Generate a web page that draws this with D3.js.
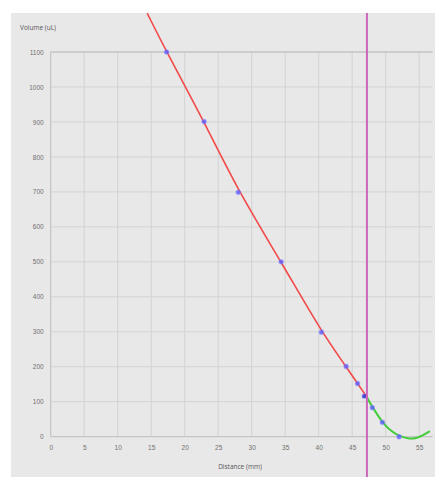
<!DOCTYPE html>
<html><head><meta charset="utf-8">
<script src="https://cdn.jsdelivr.net/npm/d3@7"></script>
<style>body{margin:0;background:#fff;}svg{display:block;font-family:"Open Sans","DejaVu Sans",sans-serif;}</style>
</head><body><div id="chart"></div>
<script>
const xTicks = [0,5,10,15,20,25,30,35,40,45,50,55];
const yTicks = [0,100,200,300,400,500,600,700,800,900,1000,1100];
// measured points
const pointDistance = [17.3,22.9,28.0,34.4,40.4,44.1,45.8,46.8,48.0,49.5,52.0];
const pointVolume   = [1100,901,699,500,299,201,152,116,83,41,0];
// red fitted curve
const redDistance = [14.4,17.3,22.9,28.0,34.4,40.4,44.1,45.8,47.2];
const redVolume   = [1211,1100,901,702,500,300,200,152,113];
// green fitted curve
const greenDistance = [47.2,48.0,49.5,50.5,52.0,53.5,54.5,55.5,56.6];
const greenVolume   = [113,86,43,22,3,-5,-4,4,16];
const cursorDistance = 47.2;

const W=435,H=477;
const svg=d3.select("#chart").append("svg").attr("width",W).attr("height",H);
svg.append("rect").attr("x",11).attr("y",13).attr("width",W-11).attr("height",H-13).attr("fill","#e8e8e8");

const x=d3.scaleLinear().domain([0,57]).range([50.7,432.6]);
const y=d3.scaleLinear().domain([0,1100]).range([436.7,52]);

const g=svg.append("g");
g.selectAll(".vg").data(xTicks.slice(1)).enter().append("line")
 .attr("x1",d=>x(d)).attr("x2",d=>x(d)).attr("y1",y(1100)).attr("y2",y(0))
 .attr("stroke","#d3d3d3").attr("stroke-width",1);
g.selectAll(".hg").data(yTicks.slice(1,-1)).enter().append("line")
 .attr("x1",x(0)).attr("x2",432.6).attr("y1",d=>y(d)).attr("y2",d=>y(d))
 .attr("stroke","#d3d3d3").attr("stroke-width",1);
g.append("line").attr("x1",x(0)).attr("x2",432.6).attr("y1",y(1100)).attr("y2",y(1100)).attr("stroke","#c4c4c4").attr("stroke-width",1.5);
g.append("line").attr("x1",x(0)).attr("x2",432.6).attr("y1",y(0)).attr("y2",y(0)).attr("stroke","#c4c4c4").attr("stroke-width",1.2);
g.append("line").attr("x1",x(0)).attr("x2",x(0)).attr("y1",y(1100)).attr("y2",y(0)).attr("stroke","#c4c4c4").attr("stroke-width",1.2);

const xa=d3.axisBottom(x).tickValues(xTicks).tickFormat(d3.format("d")).tickSize(0).tickPadding(9);
const ax=svg.append("g").attr("transform",`translate(0,${y(0)})`).call(xa);
const ya=d3.axisLeft(y).tickValues(yTicks).tickFormat(d3.format("d")).tickSize(0).tickPadding(7);
const ay=svg.append("g").attr("transform",`translate(${x(0)},0)`).call(ya);
[ax,ay].forEach(a=>{a.select(".domain").remove();a.selectAll("text").attr("fill","#707070").attr("font-size","6.5px");});

svg.append("text").attr("x",20).attr("y",30).attr("font-size","6.5px").attr("fill","#555").text("Volume (uL)");
svg.append("text").attr("x",240).attr("y",469).attr("text-anchor","middle").attr("font-size","6.5px").attr("fill","#555").text("Distance (mm)");

svg.append("clipPath").attr("id","c").append("rect").attr("x",11).attr("y",13).attr("width",W-11).attr("height",H-13);
const redLine=d3.line().x(d=>x(d[0])).y(d=>y(d[1])).curve(d3.curveBasis);
const greenLine=d3.line().x(d=>x(d[0])).y(d=>y(d[1])).curve(d3.curveCatmullRom);
svg.append("path").attr("clip-path","url(#c)").datum(d3.zip(redDistance,redVolume)).attr("d",redLine)
 .attr("fill","none").attr("stroke","#f24a4a").attr("stroke-width",1.6);
svg.append("path").datum(d3.zip(greenDistance,greenVolume)).attr("d",greenLine)
 .attr("fill","none").attr("stroke","#44cc3c").attr("stroke-width",2);

svg.selectAll(".pt").data(d3.zip(pointDistance,pointVolume)).enter().append("circle")
 .attr("cx",d=>x(d[0])).attr("cy",d=>y(d[1])).attr("r",2.2)
 .attr("fill",d=>d[0]===46.8?"#2020c0":"#5a5aff").attr("fill-opacity",0.8)
 .attr("stroke","#8080ff").attr("stroke-opacity",0.45).attr("stroke-width",1.2);

svg.append("line").attr("x1",x(cursorDistance)).attr("x2",x(cursorDistance)).attr("y1",13).attr("y2",H)
 .attr("stroke","#cc66bb").attr("stroke-width",2);
</script></body></html>
